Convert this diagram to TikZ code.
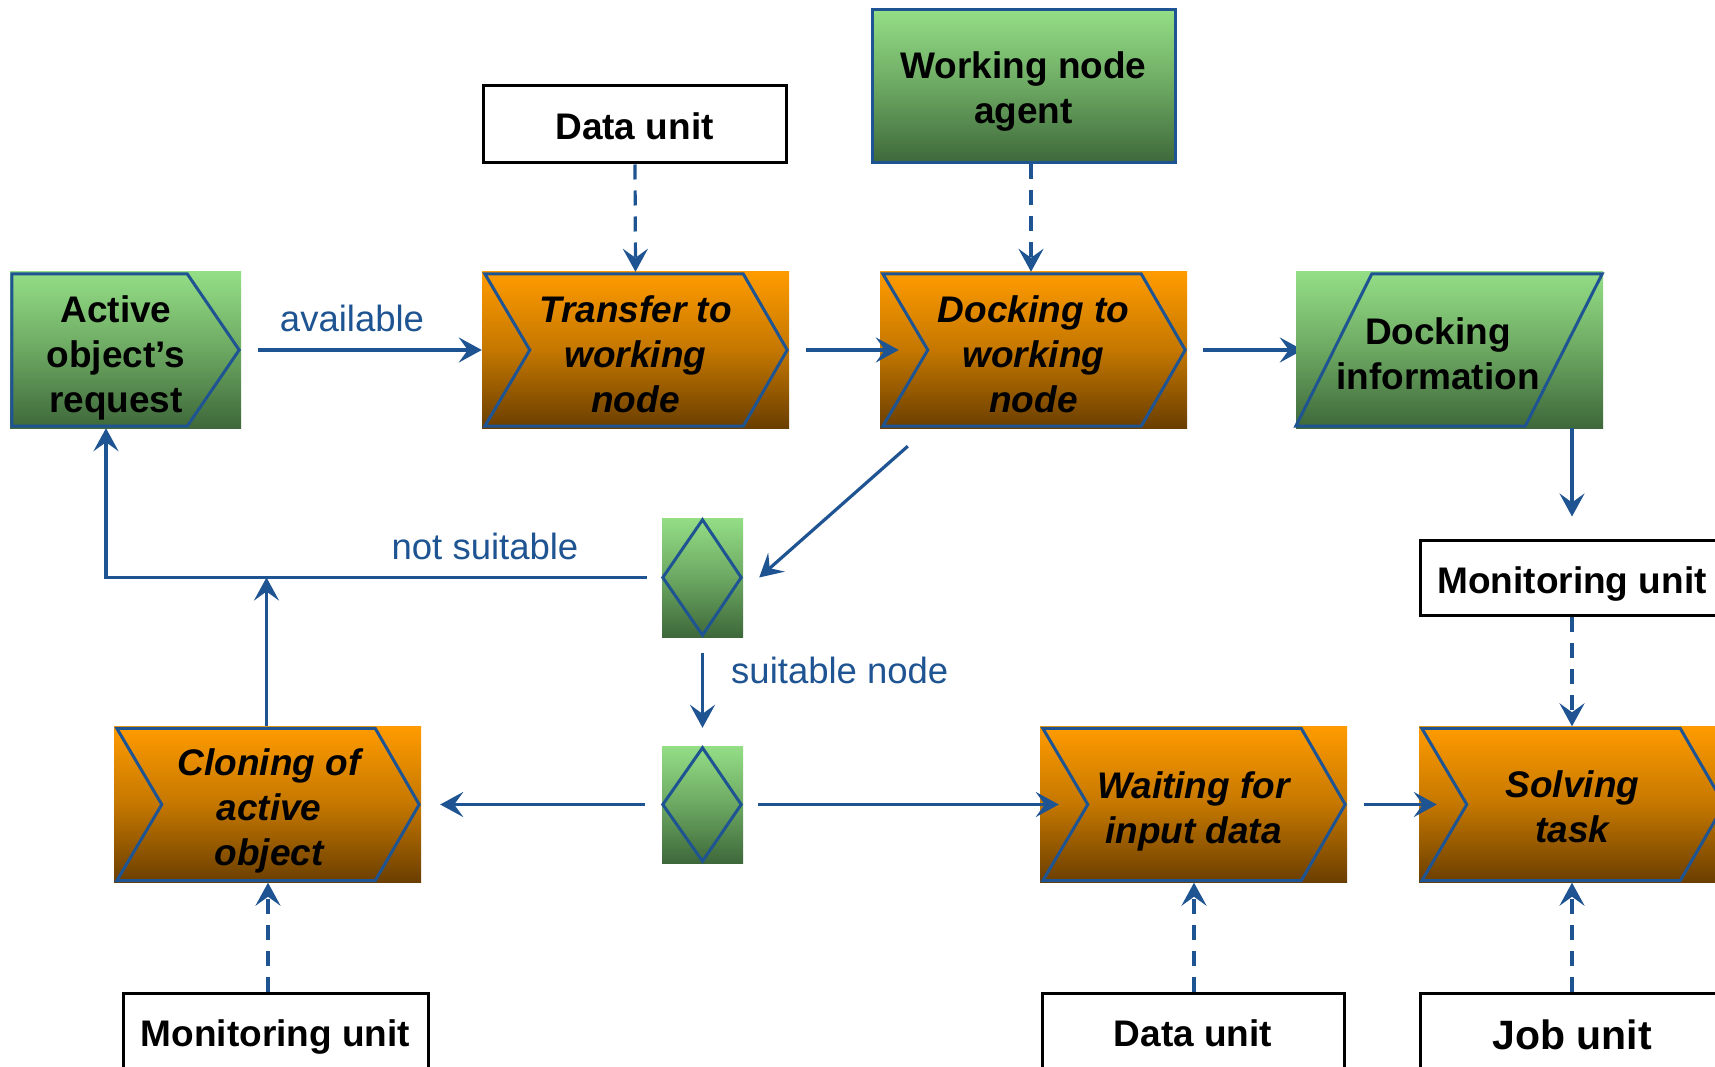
\documentclass[tikz,border=0pt]{standalone}
\usepackage{fontspec}
\setmainfont{Liberation Sans}
\usetikzlibrary{arrows.meta,calc}
\pgfdeclarelayer{bg}
\pgfsetlayers{bg,main}
\definecolor{lblue}{RGB}{31,84,146}
\definecolor{gtop}{RGB}{148,222,134}
\definecolor{gmid}{RGB}{108,168,98}
\definecolor{gbot}{RGB}{62,104,58}
\definecolor{otop}{RGB}{255,155,0}
\definecolor{omid}{RGB}{196,119,0}
\definecolor{obot}{RGB}{106,62,0}
\tikzset{
  boxfont/.style={font=\fontsize{37}{45}\selectfont\bfseries, align=center, text=black, inner sep=0pt},
  procfont/.style={font=\fontsize{37}{45}\selectfont\bfseries\itshape, align=center, text=black, inner sep=0pt},
  greenfill/.style={rectangle, inner sep=0pt, top color=gtop, bottom color=gbot, middle color=gmid},
  orangefill/.style={rectangle, inner sep=0pt, top color=otop, bottom color=obot, middle color=omid},
  procnode/.style={orangefill, minimum width=307pt, minimum height=156pt},
  unitbox/.style={rectangle, draw=black, line width=3pt, fill=white, inner sep=0pt, minimum height=77pt},
  outl/.style={draw=lblue, line width=3pt, line join=miter},
  arr/.style={draw=lblue, line width=3.2pt, -{Stealth[length=23pt,width=25pt,inset=9pt]}},
  darr/.style={arr, dash pattern=on 15pt off 11pt},
  lbl/.style={font=\fontsize{36.5}{42}\selectfont, text=lblue, inner sep=0pt}
}
\newcommand\mychev[1]{%
  \draw[outl] ($(#1.north west)+(3,2)$) -- ($(#1.north east)+(-46,2)$) -- ($(#1.east)+(-2,0)$)
    -- ($(#1.south east)+(-46,-2)$) -- ($(#1.south west)+(3,-2)$) -- ($(#1.west)+(48,0)$) -- cycle;}
\begin{document}
\begin{tikzpicture}[x=1pt,y=-1pt]
\useasboundingbox (0,0) rectangle (1715,1067);
\clip (0,0) rectangle (1715,1067);
\begin{pgfonlayer}{bg}
\fill[white] (0,0) rectangle (1715,1067);
\end{pgfonlayer}

% ---------- nodes ----------
\node[greenfill, minimum width=231pt, minimum height=156pt] (act) at (125.5,350) {};
\draw[outl] ($(act.north west)+(2,2)$) -- ($(act.north east)+(-54,2)$) -- ($(act.east)+(-2,0)$)
  -- ($(act.south east)+(-54,-2)$) -- ($(act.south west)+(2,-2)$) -- cycle;
\node[boxfont] (actT) at (116,357.7) {Active\\object’s\\request};

\node[procnode] (tr) at (635.5,350) {};
\mychev{tr}
\node[procfont] (trT) at ($(tr.center)+(0,3.8)$) {Transfer to\\working\\node};

\node[procnode] (dk) at (1033.5,350) {};
\mychev{dk}
\node[procfont] (dkT) at ($(dk.center)+(0,3.8)$) {Docking to\\working\\node};

\node[greenfill, minimum width=307pt, minimum height=156pt] (di) at (1449.5,350) {};
\draw[outl] ($(di.north west)+(76,2)$) -- ($(di.north east)+(-1,2)$)
  -- ($(di.south east)+(-78,-2)$) -- ($(di.south west)+(0,-2)$) -- cycle;
\node[boxfont] (diT) at (1438,353.6) {Docking\\information};

\node[unitbox, minimum width=303pt] (du1) at (634.5,124.5) {};
\node[boxfont] (du1T) at ($(du1.center)+(0,2.2)$) {Data unit};

\node[greenfill, draw=lblue, line width=3pt, minimum width=303pt, minimum height=153pt] (wna) at (1023.5,86.5) {};
\node[boxfont] (wnaT) at ($(wna.center)+(0,5.5)$) {Working node\\agent};

\node[greenfill, minimum width=81pt, minimum height=119pt] (d1) at (702.5,577.5) {};
\draw[outl] ($(d1.north)+(0,2)$) -- ($(d1.east)+(-2,0)$) -- ($(d1.south)+(0,-2)$) -- ($(d1.west)+(1,0)$) -- cycle;
\node[greenfill, minimum width=81pt, minimum height=117pt] (d2) at (702.5,804.5) {};
\draw[outl] ($(d2.north)+(0,2)$) -- ($(d2.east)+(-2,0)$) -- ($(d2.south)+(0,-2)$) -- ($(d2.west)+(1,0)$) -- cycle;

\node[procnode] (cl) at (267.5,804.5) {};
\mychev{cl}
\node[procfont] (clT) at ($(cl.center)+(1.5,6.6)$) {Cloning of\\active\\object};

\node[procnode] (wt) at (1193.5,804.5) {};
\mychev{wt}
\node[procfont] (wtT) at ($(wt.center)+(0,7.1)$) {Waiting for\\input data};

\node[procnode] (sv) at (1572.5,804.5) {};
\mychev{sv}
\node[procfont] (svT) at ($(sv.center)+(0,2.7)$) {Solving\\task};

\node[unitbox, minimum width=304pt, minimum height=75pt] (mu1) at (1572,577.5) {};
\node[boxfont] (mu1T) at ($(mu1.center)+(0,6.6)$) {Monitoring unit};
\node[unitbox, minimum width=305pt] (mu2) at (275.5,1031.5) {};
\node[boxfont] (mu2T) at ($(mu2.center)+(0,5.5)$) {Monitoring unit};
\node[unitbox, minimum width=302pt] (du2) at (1193,1031.5) {};
\node[boxfont] (du2T) at ($(du2.center)+(0,2.2)$) {Data unit};
\node[unitbox, minimum width=304pt] (ju) at (1572,1031.5) {};
\node[boxfont, font=\fontsize{41}{48}\selectfont\bfseries] (juT) at ($(ju.center)+(0,3)$) {Job unit};

% ---------- connectors ----------
\draw[arr] ([xshift=17pt]act.east) -- (tr.west);
\node[lbl] (lavail) at (352,318) {available};
\draw[darr] ([xshift=0.5pt]du1.south) -- (tr.north);
\draw[arr] ([xshift=17pt]tr.east) -- ([xshift=19pt]dk.west);
\draw[darr] ([xshift=-2.5pt]dk.north |- wna.south) -- ([xshift=-2.5pt]dk.north);
\begin{pgfonlayer}{bg}
\draw[arr] ([xshift=16pt]dk.east) -- ([xshift=7pt]di.west);
\end{pgfonlayer}
\draw[arr] (mu1.north |- di.south) -- ([yshift=22pt]mu1.north);
\draw[darr] (mu1.south) -- (sv.north -| mu1.south);

\coordinate (dkout) at ($(dk.south west)+(28,18)$);
\draw[arr] (dkout) -- ([xshift=16pt]d1.east);

\coordinate (ns) at ([xshift=-15pt]d1.west);
\draw[arr] (ns) -| ([xshift=-19.5pt]act.south);
\node[lbl] (lns) at (485,546) {not suitable};
\draw[arr] ([xshift=-1pt]cl.north) -- ([xshift=-1pt]cl.north |- ns);

\draw[arr] ([yshift=-16pt]d1.south) -- ([yshift=18pt]d2.north);
\node[lbl, anchor=west] (lsn) at (731,670) {suitable node};

\draw[arr] ([xshift=-17pt]d2.west) -- ([xshift=19pt]cl.east);
\draw[arr] ([xshift=15pt]d2.east) -- ([xshift=19pt]wt.west);
\draw[arr] ([xshift=17pt]wt.east) -- ([xshift=18pt]sv.west);

\draw[darr] ([xshift=0.5pt]cl.south |- mu2.north) -- ([xshift=0.5pt]cl.south);
\draw[darr] ([xshift=0.5pt]wt.south |- du2.north) -- ([xshift=0.5pt]wt.south);
\draw[darr] (ju.north) -- (sv.south -| ju.north);
\end{tikzpicture}
\end{document}
